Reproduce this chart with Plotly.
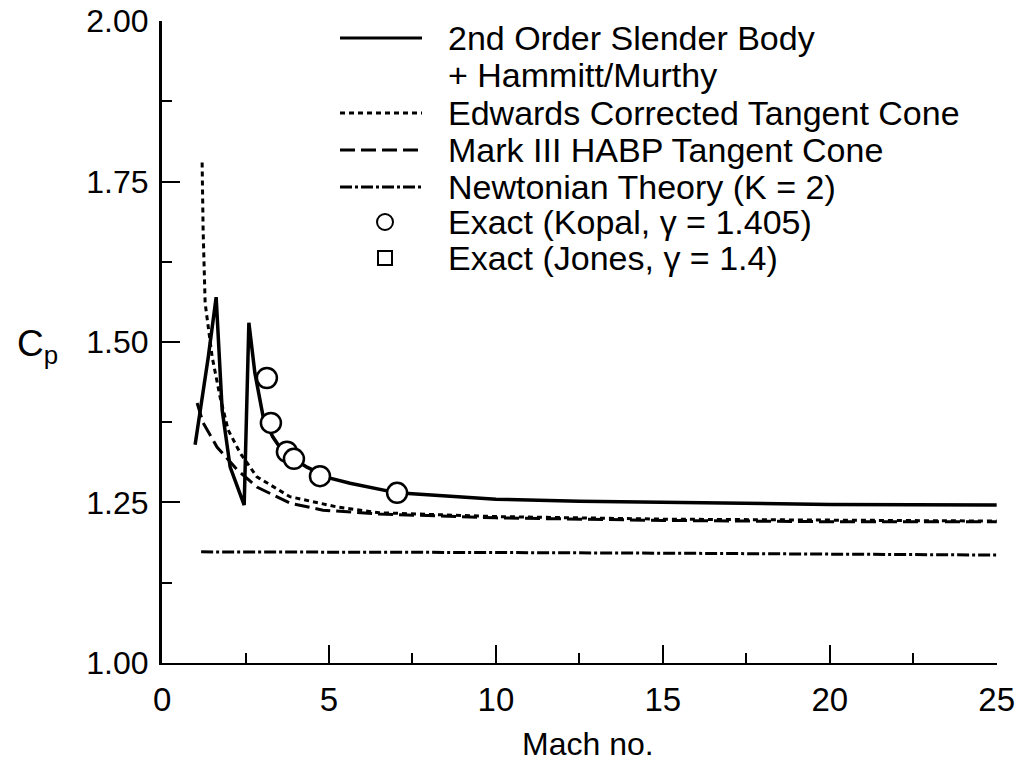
import plotly.graph_objects as go

# 2nd order slender body + Hammitt/Murthy (solid)
sb_mach = [0.99, 1.14, 1.38, 1.62, 1.80, 2.04, 2.46, 2.60, 2.78, 3.03, 3.32, 3.62, 4.34, 5.03, 5.63, 7.04, 8.0, 10, 12.5, 15, 20, 25]
sb_cp = [1.340, 1.392, 1.475, 1.570, 1.394, 1.305, 1.246, 1.530, 1.452, 1.383, 1.352, 1.329, 1.305, 1.288, 1.280, 1.265, 1.262, 1.255, 1.252, 1.250, 1.247, 1.246]

# Edwards corrected tangent cone (dotted)
ed_mach = [1.20, 1.23, 1.29, 1.50, 1.74, 1.98, 2.34, 2.84, 3.83, 5.24, 6.5, 10, 15, 20, 25]
ed_cp = [1.780, 1.674, 1.561, 1.477, 1.414, 1.363, 1.327, 1.290, 1.259, 1.243, 1.234, 1.228, 1.224, 1.222, 1.221]

# Mark III HABP tangent cone (dashed)
mk_mach = [1.05, 1.23, 1.65, 2.25, 2.84, 3.83, 4.82, 6.5, 10, 15, 20, 25]
mk_cp = [1.405, 1.374, 1.336, 1.301, 1.274, 1.249, 1.238, 1.232, 1.226, 1.222, 1.220, 1.220]

# Newtonian theory (K = 2)
nt_mach = [1.17, 5, 10, 15, 20, 25]
nt_cp = [1.173, 1.173, 1.172, 1.171, 1.169, 1.168]

# Exact (Kopal, gamma = 1.405)
kp_mach = [3.14, 3.26, 3.74, 3.95, 4.73, 7.04]
kp_cp = [1.444, 1.374, 1.329, 1.318, 1.291, 1.265]

legend_labels = ["2nd Order Slender Body", "+ Hammitt/Murthy", "Edwards Corrected Tangent Cone",
                 "Mark III HABP Tangent Cone", "Newtonian Theory (K = 2)",
                 "Exact (Kopal, \u03b3 = 1.405)", "Exact (Jones, \u03b3 = 1.4)"]

W, H = 1018, 765
L, R, T, B = 162, 21, 21, 102
pw, ph = W - L - R, H - T - B

def px(x):
    return (x - L) / pw

def py(y):
    return (H - B - y) / ph

DOT = "5px,4px"
DASH = "15px,6px"
DASHDOT = "12px,3px,3px,3px"

fig = go.Figure()
fig.add_trace(go.Scatter(x=sb_mach, y=sb_cp, mode="lines", line=dict(color="black", width=3.5)))
fig.add_trace(go.Scatter(x=ed_mach, y=ed_cp, mode="lines", line=dict(color="black", width=3, dash=DOT)))
fig.add_trace(go.Scatter(x=mk_mach, y=mk_cp, mode="lines", line=dict(color="black", width=3, dash=DASH)))
fig.add_trace(go.Scatter(x=nt_mach, y=nt_cp, mode="lines", line=dict(color="black", width=3, dash=DASHDOT)))
fig.add_trace(go.Scatter(x=kp_mach, y=kp_cp, mode="markers",
                         marker=dict(symbol="circle", size=20, color="white", line=dict(color="black", width=2.5))))

font = "Liberation Sans, Arial, sans-serif"

# hand-drawn legend
shapes = []
annos = []
rows = [38, 75, 113, 150, 187, 222, 258]
styles = ["solid", None, DOT, DASH, DASHDOT]
for i, (lab, yy) in enumerate(zip(legend_labels, rows)):
    annos.append(dict(x=px(446), y=py(yy), xref="paper", yref="paper", text=lab, showarrow=False,
                      xanchor="left", yanchor="middle", font=dict(family=font, size=34, color="black")))
    if i in (0, 2, 3, 4):
        shapes.append(dict(type="line", xref="paper", yref="paper", x0=px(340), x1=px(422), y0=py(yy), y1=py(yy),
                           line=dict(color="black", width=3, dash=styles[i])))
shapes.append(dict(type="circle", xref="paper", yref="paper", xsizemode="pixel", ysizemode="pixel",
                   xanchor=px(385), yanchor=py(222), x0=-8, x1=8, y0=-8, y1=8, line=dict(color="black", width=2)))
shapes.append(dict(type="rect", xref="paper", yref="paper", xsizemode="pixel", ysizemode="pixel",
                   xanchor=px(385), yanchor=py(258), x0=-7, x1=7, y0=-7, y1=7, line=dict(color="black", width=2)))

annos.append(dict(x=px(38), y=py(346), xref="paper", yref="paper", text="C<sub>p</sub>", showarrow=False,
                  xanchor="center", yanchor="middle", font=dict(family=font, size=37, color="black")))
annos.append(dict(x=px(588), y=py(744), xref="paper", yref="paper", text="Mach no.", showarrow=False,
                  xanchor="center", yanchor="middle", font=dict(family=font, size=32, color="black")))

fig.update_layout(
    width=W, height=H, margin=dict(l=L, r=R, t=T, b=B, autoexpand=False),
    paper_bgcolor="white", plot_bgcolor="white", showlegend=False,
    shapes=shapes, annotations=annos,
    xaxis=dict(range=[-0.002, 25.01], dtick=5, tick0=0, showgrid=False, zeroline=False, showline=True,
               linecolor="black", linewidth=2, ticks="inside", ticklen=18, tickwidth=2, tickcolor="black",
               minor=dict(ticks="inside", ticklen=10, tickwidth=2, dtick=2.5, tick0=0, tickcolor="black"),
               tickfont=dict(family=font, size=33, color="black"), ticklabelstandoff=6,
               ticklabeloverflow="allow", automargin=False),
    yaxis=dict(range=[0.9998, 2.0004], dtick=0.25, tick0=1, tickformat=".2f", showgrid=False, zeroline=False,
               showline=True, linecolor="black", linewidth=3, ticks="inside", ticklen=18, tickwidth=2,
               tickcolor="black",
               minor=dict(ticks="inside", ticklen=10, tickwidth=2, dtick=0.125, tick0=1, tickcolor="black"),
               tickfont=dict(family=font, size=32, color="black"), ticklabelstandoff=4,
               ticklabeloverflow="allow", automargin=False),
)

fig.write_html("out.html", post_script="document.body.style.margin='0px';",
               config={"displayModeBar": False})
